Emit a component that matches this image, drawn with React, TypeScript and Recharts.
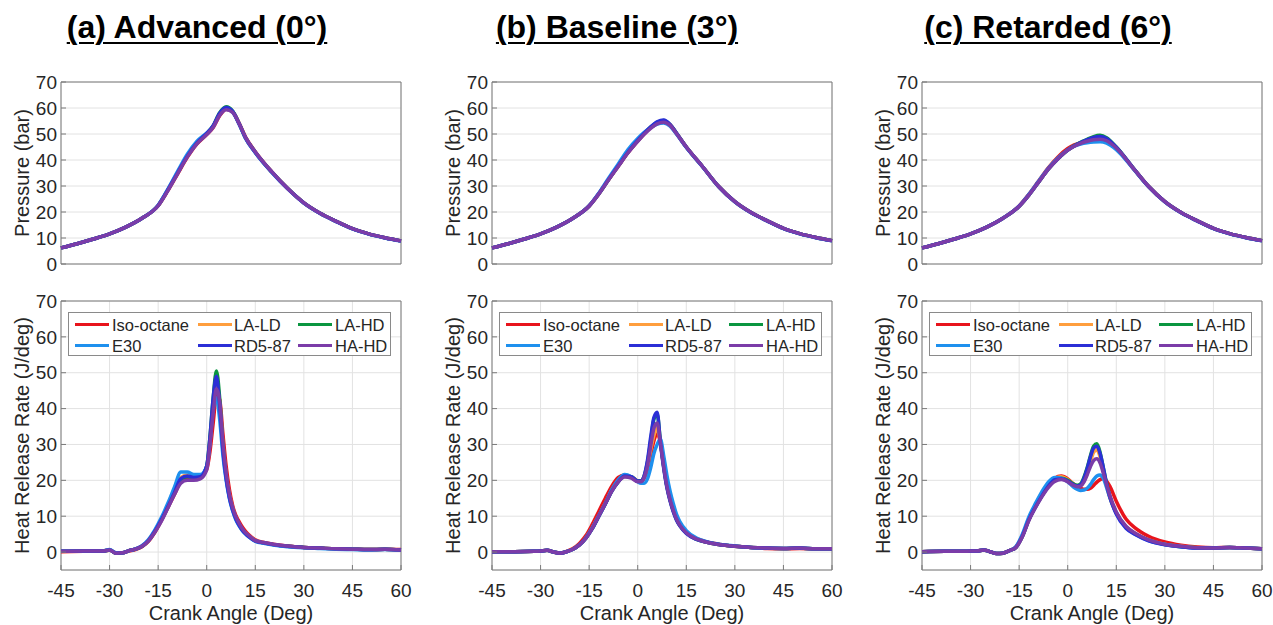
import React from 'react';
import { LineChart, Line, XAxis, YAxis, CartesianGrid, ReferenceArea, Legend } from 'recharts';

const FONT = "'Liberation Sans', Arial, Helvetica, sans-serif";

// crank angle grids
const pressureAngle = [-45, -40, -35, -30, -25, -20, -15, -12, -9, -6, -3, 0, 2, 4, 6, 8, 10, 12, 15, 20, 25, 30, 35, 40, 45, 50, 55, 60];
const hrrAngle = [-45, -38, -32, -30, -28, -26, -24, -22, -20, -18, -16, -14, -12, -10, -8, -6, -4, -2, 0, 1, 2, 3, 4, 5, 6, 7, 8, 9, 10, 11, 12, 13, 15, 18, 21, 25, 30, 35, 40, 45, 50, 55, 60];

const xTicks = [-45, -30, -15, 0, 15, 30, 45, 60];
const yTicks = [0, 10, 20, 30, 40, 50, 60, 70];

const titles = ['(a) Advanced (0°)', '(b) Baseline (3°)', '(c) Retarded (6°)'];

const series = [
  { key: 'iso', name: 'Iso-octane', color: '#e8141c' },
  { key: 'lald', name: 'LA-LD', color: '#ff9e3d' },
  { key: 'lahd', name: 'LA-HD', color: '#0a9640' },
  { key: 'e30', name: 'E30', color: '#1e90ee' },
  { key: 'rd5', name: 'RD5-87', color: '#2b2fd6' },
  { key: 'hahd', name: 'HA-HD', color: '#7b3ca8' },
];

// ---- pressure (bar), advanced
const pAdvIso = [6.2, 7.8, 9.6, 11.6, 14.2, 17.6, 22.4, 28.2, 34.6, 41.0, 46.2, 49.8, 52.5, 57.0, 59.5, 58.6, 54.2, 48.8, 43.2, 35.6, 29.0, 23.5, 19.5, 16.4, 13.6, 11.6, 10.1, 8.9];
const pAdvLALD = [6.2, 7.8, 9.6, 11.6, 14.2, 17.6, 22.5, 28.5, 35.0, 41.5, 46.6, 50.0, 53.0, 57.8, 60.0, 58.6, 54.0, 48.5, 43.0, 35.5, 29.0, 23.5, 19.5, 16.4, 13.6, 11.6, 10.1, 8.9];
const pAdvLAHD = [6.2, 7.8, 9.6, 11.6, 14.2, 17.6, 22.5, 28.5, 35.0, 41.5, 46.6, 50.2, 53.2, 58.2, 60.5, 58.8, 54.0, 48.5, 43.0, 35.5, 29.0, 23.5, 19.5, 16.4, 13.6, 11.6, 10.1, 8.9];
const pAdvE30 = [6.2, 7.8, 9.6, 11.6, 14.2, 17.6, 22.6, 28.8, 35.6, 42.2, 47.2, 50.4, 53.0, 57.5, 59.8, 58.4, 53.8, 48.3, 42.8, 35.4, 28.9, 23.4, 19.4, 16.3, 13.5, 11.5, 10.0, 8.8];
const pAdvRD5 = [6.2, 7.8, 9.6, 11.6, 14.2, 17.6, 22.5, 28.5, 35.0, 41.5, 46.6, 50.2, 53.2, 58.0, 60.2, 58.7, 54.0, 48.5, 43.0, 35.5, 29.0, 23.5, 19.5, 16.4, 13.6, 11.6, 10.1, 8.9];
const pAdvHAHD = [6.2, 7.8, 9.6, 11.6, 14.2, 17.6, 22.4, 28.2, 34.8, 41.2, 46.3, 49.8, 52.6, 57.2, 59.3, 58.3, 54.0, 48.6, 43.1, 35.6, 29.0, 23.5, 19.5, 16.4, 13.6, 11.6, 10.1, 8.9];

// ---- pressure (bar), baseline
const pBaseIso = [6.2, 7.8, 9.6, 11.6, 14.2, 17.6, 22.3, 27.0, 32.4, 37.6, 42.8, 47.3, 50.0, 52.4, 54.1, 54.8, 53.5, 50.2, 45.0, 37.5, 29.8, 24.0, 19.8, 16.6, 13.7, 11.7, 10.2, 9.0];
const pBaseLALD = [6.2, 7.8, 9.6, 11.6, 14.2, 17.6, 22.3, 27.0, 32.5, 37.8, 43.0, 47.5, 50.2, 52.5, 54.2, 55.0, 53.5, 50.2, 45.0, 37.5, 29.8, 24.0, 19.8, 16.6, 13.7, 11.7, 10.2, 9.0];
const pBaseLAHD = [6.2, 7.8, 9.6, 11.6, 14.2, 17.6, 22.3, 27.0, 32.5, 37.8, 43.0, 47.5, 50.2, 52.7, 54.5, 55.2, 53.6, 50.3, 45.0, 37.5, 29.8, 24.0, 19.8, 16.6, 13.7, 11.7, 10.2, 9.0];
const pBaseE30 = [6.2, 7.8, 9.6, 11.6, 14.2, 17.6, 22.4, 27.3, 33.0, 38.5, 44.0, 48.3, 50.6, 52.5, 53.8, 54.2, 53.0, 49.9, 44.8, 37.4, 29.7, 23.9, 19.7, 16.5, 13.6, 11.6, 10.1, 8.9];
const pBaseRD5 = [6.2, 7.8, 9.6, 11.6, 14.2, 17.6, 22.3, 27.0, 32.5, 37.8, 43.0, 47.5, 50.3, 52.8, 54.7, 55.4, 53.7, 50.3, 45.0, 37.5, 29.8, 24.0, 19.8, 16.6, 13.7, 11.7, 10.2, 9.0];
const pBaseHAHD = [6.2, 7.8, 9.6, 11.6, 14.2, 17.6, 22.3, 27.0, 32.4, 37.6, 42.8, 47.2, 49.9, 52.2, 53.9, 54.5, 53.3, 50.1, 45.0, 37.5, 29.8, 24.0, 19.8, 16.6, 13.7, 11.7, 10.2, 9.0];

// ---- pressure (bar), retarded
const pRetIso = [6.2, 7.8, 9.6, 11.6, 14.2, 17.6, 22.3, 26.8, 31.9, 37.0, 41.2, 44.4, 45.8, 46.6, 47.2, 47.8, 48.0, 47.4, 44.6, 37.2, 29.8, 24.0, 19.8, 16.6, 13.7, 11.7, 10.2, 9.0];
const pRetLALD = [6.2, 7.8, 9.6, 11.6, 14.2, 17.6, 22.2, 26.5, 31.5, 36.5, 40.5, 43.8, 45.4, 46.6, 47.5, 48.3, 48.6, 47.8, 44.7, 37.2, 29.8, 24.0, 19.8, 16.6, 13.7, 11.7, 10.2, 9.0];
const pRetLAHD = [6.2, 7.8, 9.6, 11.6, 14.2, 17.6, 22.2, 26.5, 31.5, 36.5, 40.5, 43.8, 45.5, 46.8, 47.9, 49.0, 49.5, 48.6, 45.0, 37.3, 29.8, 24.0, 19.8, 16.6, 13.7, 11.7, 10.2, 9.0];
const pRetE30 = [6.2, 7.8, 9.6, 11.6, 14.2, 17.6, 22.3, 26.8, 31.8, 36.8, 40.8, 43.9, 45.3, 46.1, 46.6, 46.9, 47.0, 46.5, 44.0, 37.0, 29.7, 23.9, 19.7, 16.5, 13.6, 11.6, 10.1, 8.9];
const pRetRD5 = [6.2, 7.8, 9.6, 11.6, 14.2, 17.6, 22.2, 26.5, 31.5, 36.5, 40.5, 43.8, 45.4, 46.7, 47.8, 48.7, 49.0, 48.3, 44.9, 37.3, 29.8, 24.0, 19.8, 16.6, 13.7, 11.7, 10.2, 9.0];
const pRetHAHD = [6.2, 7.8, 9.6, 11.6, 14.2, 17.6, 22.2, 26.5, 31.5, 36.5, 40.5, 43.8, 45.3, 46.4, 47.2, 47.8, 48.0, 47.4, 44.6, 37.2, 29.8, 24.0, 19.8, 16.6, 13.7, 11.7, 10.2, 9.0];

// ---- heat release rate (J/deg), advanced
const hAdvIso = [0.1, 0.2, 0.3, 0.5, -0.2, -0.2, 0.3, 0.7, 1.5, 3.0, 5.5, 8.8, 12.4, 16.0, 19.6, 20.6, 20.6, 21.0, 23.0, 28.0, 36.0, 43.5, 42.5, 33.0, 24.0, 17.5, 13.0, 10.2, 8.5, 7.0, 5.8, 4.8, 3.4, 2.6, 2.1, 1.7, 1.3, 1.1, 0.9, 0.8, 0.7, 0.8, 0.7];
const hAdvLALD = [0.2, 0.3, 0.3, 0.6, -0.3, -0.2, 0.4, 0.8, 1.6, 3.2, 5.8, 9.0, 12.8, 16.8, 20.8, 21.5, 21.0, 21.2, 23.5, 31.0, 41.0, 47.5, 42.0, 30.0, 21.5, 16.0, 12.2, 9.6, 7.8, 6.3, 5.3, 4.5, 3.2, 2.5, 2.0, 1.6, 1.3, 1.1, 0.9, 0.8, 0.7, 0.8, 0.6];
const hAdvLAHD = [0.2, 0.3, 0.3, 0.6, -0.3, -0.2, 0.4, 0.8, 1.6, 3.2, 5.8, 9.0, 12.6, 16.5, 20.2, 21.0, 20.8, 21.0, 24.0, 32.0, 43.0, 50.5, 43.0, 29.5, 21.0, 15.5, 12.0, 9.4, 7.6, 6.2, 5.2, 4.4, 3.1, 2.5, 2.0, 1.6, 1.3, 1.1, 0.9, 0.8, 0.7, 0.8, 0.6];
const hAdvE30 = [0.2, 0.3, 0.3, 0.7, -0.2, -0.2, 0.4, 0.9, 1.8, 3.5, 6.2, 9.6, 13.6, 18.0, 22.3, 22.3, 21.6, 21.6, 23.8, 30.5, 40.0, 43.0, 37.0, 27.0, 20.0, 15.0, 11.5, 9.0, 7.3, 6.0, 5.0, 4.2, 3.0, 2.4, 1.9, 1.5, 1.2, 1.0, 0.8, 0.7, 0.6, 0.7, 0.5];
const hAdvRD5 = [0.2, 0.3, 0.3, 0.6, -0.3, -0.2, 0.4, 0.8, 1.6, 3.2, 5.8, 9.0, 12.6, 16.5, 20.5, 21.2, 20.8, 21.0, 24.0, 32.0, 43.0, 49.0, 41.0, 28.5, 20.5, 15.2, 11.8, 9.3, 7.5, 6.1, 5.1, 4.3, 3.1, 2.5, 2.0, 1.6, 1.3, 1.1, 0.9, 0.8, 0.7, 0.8, 0.6];
const hAdvHAHD = [0.2, 0.3, 0.3, 0.6, -0.3, -0.2, 0.4, 0.8, 1.6, 3.1, 5.6, 8.6, 12.3, 16.0, 19.2, 20.0, 20.0, 20.4, 23.0, 30.0, 39.0, 45.5, 42.0, 30.5, 22.0, 16.2, 12.4, 9.8, 8.0, 6.5, 5.4, 4.6, 3.2, 2.6, 2.1, 1.7, 1.3, 1.1, 0.9, 0.8, 0.7, 0.8, 0.6];

// ---- heat release rate (J/deg), baseline
const hBaseIso = [0.1, 0.1, 0.2, 0.3, 0.5, 0.0, -0.3, 0.2, 1.0, 2.4, 4.6, 7.8, 11.4, 15.0, 18.4, 20.8, 21.5, 20.8, 19.8, 19.8, 20.6, 22.8, 27.0, 31.0, 33.0, 30.5, 24.5, 19.0, 15.0, 12.0, 9.5, 7.8, 5.6, 3.8, 2.9, 2.2, 1.6, 1.3, 1.0, 0.9, 1.0, 0.8, 0.8];
const hBaseLALD = [0.1, 0.1, 0.2, 0.3, 0.5, 0.0, -0.3, 0.1, 0.8, 2.0, 4.0, 6.8, 10.2, 13.6, 17.2, 19.8, 21.2, 21.0, 19.9, 19.8, 21.0, 24.0, 28.5, 32.5, 34.5, 30.5, 24.0, 18.5, 14.6, 11.6, 9.2, 7.5, 5.4, 3.7, 2.8, 2.1, 1.6, 1.3, 1.1, 1.0, 1.1, 0.9, 0.9];
const hBaseLAHD = [0.1, 0.1, 0.2, 0.3, 0.5, 0.0, -0.3, 0.1, 0.8, 2.0, 3.9, 6.6, 10.0, 13.4, 17.0, 19.6, 21.2, 21.0, 19.8, 19.8, 21.2, 25.0, 31.0, 37.0, 38.5, 31.0, 24.0, 18.3, 14.4, 11.4, 9.0, 7.4, 5.3, 3.6, 2.8, 2.1, 1.6, 1.3, 1.1, 1.0, 1.1, 0.9, 0.9];
const hBaseE30 = [0.1, 0.1, 0.2, 0.3, 0.5, 0.0, -0.3, 0.1, 0.8, 2.0, 4.0, 6.8, 10.2, 13.6, 17.4, 20.2, 21.6, 21.0, 19.6, 19.2, 19.2, 20.4, 23.5, 27.5, 30.0, 31.5, 27.0, 21.5, 17.0, 13.5, 10.5, 8.5, 6.0, 4.0, 3.0, 2.2, 1.7, 1.3, 1.1, 1.0, 1.1, 0.9, 0.9];
const hBaseRD5 = [0.1, 0.1, 0.2, 0.3, 0.5, 0.0, -0.3, 0.1, 0.8, 2.0, 3.9, 6.6, 10.0, 13.4, 17.0, 19.6, 21.2, 21.0, 19.8, 19.8, 21.3, 25.5, 32.0, 37.5, 39.0, 30.5, 23.5, 18.0, 14.2, 11.2, 8.9, 7.3, 5.2, 3.6, 2.8, 2.1, 1.6, 1.3, 1.1, 1.0, 1.1, 0.9, 0.9];
const hBaseHAHD = [0.1, 0.1, 0.2, 0.3, 0.5, 0.0, -0.3, 0.1, 0.8, 2.0, 3.9, 6.7, 10.1, 13.5, 17.0, 19.6, 20.9, 20.6, 19.6, 19.6, 20.8, 24.0, 29.5, 34.5, 36.0, 30.5, 24.0, 18.5, 14.6, 11.6, 9.2, 7.5, 5.4, 3.7, 2.8, 2.1, 1.6, 1.3, 1.1, 1.0, 1.1, 0.9, 0.9];

// ---- heat release rate (J/deg), retarded
const hRetIso = [0.1, 0.2, 0.2, 0.3, 0.3, 0.6, 0.1, -0.4, -0.3, 0.4, 1.4, 4.6, 9.2, 12.8, 16.0, 18.8, 20.6, 21.2, 20.4, 19.6, 18.8, 18.2, 17.8, 17.5, 17.5, 17.8, 18.6, 19.5, 20.2, 20.5, 19.8, 18.4, 14.2, 9.2, 6.6, 4.4, 2.8, 1.9, 1.4, 1.2, 1.3, 1.1, 0.9];
const hRetLALD = [0.1, 0.2, 0.2, 0.3, 0.3, 0.6, 0.1, -0.4, -0.3, 0.4, 1.3, 4.4, 9.0, 12.6, 15.8, 18.6, 20.5, 21.0, 20.2, 19.5, 18.9, 18.5, 18.6, 19.8, 22.0, 25.0, 27.8, 28.5, 26.5, 22.5, 18.5, 15.2, 10.8, 7.0, 5.1, 3.4, 2.2, 1.6, 1.2, 1.1, 1.3, 1.1, 0.9];
const hRetLAHD = [0.1, 0.2, 0.2, 0.3, 0.3, 0.6, 0.1, -0.4, -0.3, 0.4, 1.3, 4.4, 9.0, 12.5, 15.6, 18.3, 20.0, 20.6, 20.0, 19.4, 18.9, 18.6, 19.0, 20.8, 23.5, 26.8, 29.5, 30.2, 27.8, 23.5, 19.2, 15.6, 11.0, 7.0, 5.0, 3.3, 2.1, 1.5, 1.2, 1.1, 1.3, 1.1, 0.9];
const hRetE30 = [0.1, 0.2, 0.2, 0.3, 0.3, 0.6, 0.1, -0.4, -0.3, 0.4, 1.5, 5.0, 9.8, 13.5, 16.8, 19.5, 20.8, 20.6, 19.6, 18.8, 18.0, 17.5, 17.2, 17.3, 17.8, 18.8, 20.2, 21.2, 21.5, 20.5, 18.0, 15.2, 10.8, 6.8, 4.9, 3.2, 2.1, 1.5, 1.1, 1.1, 1.3, 1.1, 0.9];
const hRetRD5 = [0.1, 0.2, 0.2, 0.3, 0.3, 0.6, 0.1, -0.4, -0.3, 0.4, 1.3, 4.4, 9.0, 12.5, 15.6, 18.3, 20.2, 20.4, 19.8, 19.2, 18.7, 18.4, 18.8, 20.5, 23.2, 26.5, 29.0, 29.5, 27.5, 23.5, 19.0, 15.4, 10.6, 6.6, 4.8, 3.1, 2.0, 1.5, 1.1, 1.1, 1.3, 1.1, 0.9];
const hRetHAHD = [0.1, 0.2, 0.2, 0.3, 0.3, 0.6, 0.1, -0.4, -0.3, 0.4, 1.3, 4.3, 8.8, 12.3, 15.4, 18.0, 19.7, 20.2, 19.6, 19.0, 18.5, 18.2, 18.4, 19.5, 21.5, 23.8, 25.5, 26.0, 24.8, 22.0, 18.8, 15.8, 11.2, 7.2, 5.2, 3.4, 2.2, 1.6, 1.2, 1.1, 1.3, 1.1, 0.9];

const buildRows = (angles: number[], cols: number[][]) =>
  angles.map((angle, i) => {
    const row: Record<string, number> = { angle };
    series.forEach((s, j) => { row[s.key] = cols[j][i]; });
    return row;
  });

const pressureData = [
  buildRows(pressureAngle, [pAdvIso, pAdvLALD, pAdvLAHD, pAdvE30, pAdvRD5, pAdvHAHD]),
  buildRows(pressureAngle, [pBaseIso, pBaseLALD, pBaseLAHD, pBaseE30, pBaseRD5, pBaseHAHD]),
  buildRows(pressureAngle, [pRetIso, pRetLALD, pRetLAHD, pRetE30, pRetRD5, pRetHAHD]),
];
const hrrData = [
  buildRows(hrrAngle, [hAdvIso, hAdvLALD, hAdvLAHD, hAdvE30, hAdvRD5, hAdvHAHD]),
  buildRows(hrrAngle, [hBaseIso, hBaseLALD, hBaseLAHD, hBaseE30, hBaseRD5, hBaseHAHD]),
  buildRows(hrrAngle, [hRetIso, hRetLALD, hRetLAHD, hRetE30, hRetRD5, hRetHAHD]),
];

const TEXT = '#262626';
const GRID = '#e2e2e2';
const BOX = '#7a7a7a';
const TICK_FONT = 19;

const CHART_W = 415;
const MARGIN_R = 14;

const lineX = [6, 129, 229];
const textX = [43, 165, 266];
const rowY = [12, 33];

const LegendBox = () => (
  <div style={{ position: 'relative', width: 323, height: 44, boxSizing: 'border-box', border: '1px solid #8a8a8a', background: '#fff', fontFamily: FONT }}>
    {series.map((s, i) => {
      const col = i % 3;
      const row = Math.floor(i / 3);
      return (
        <React.Fragment key={s.key}>
          <div style={{ position: 'absolute', left: lineX[col], top: rowY[row] - 2, width: 34, height: 3, background: s.color }} />
          <div style={{ position: 'absolute', left: textX[col], top: rowY[row] - 10, fontSize: 16.5, lineHeight: '20px', color: TEXT, whiteSpace: 'nowrap' }}>{s.name}</div>
        </React.Fragment>
      );
    })}
  </div>
);

const colLeft = [0, 431, 861];

const renderLines = () =>
  series.map((s) => (
    <Line key={s.key} type="monotone" dataKey={s.key} name={s.name} stroke={s.color} strokeWidth={3.5} dot={false} activeDot={false} isAnimationActive={false} />
  ));

// inward tick marks on top and right, like a boxed axis
const boxAxes = (yDomain: number[]) => [
  <XAxis key="xt" xAxisId="top" orientation="top" type="number" domain={[-45, 60]} ticks={xTicks} tick={false} axisLine={false} tickSize={-5} tickLine={{ stroke: BOX }} height={0} />,
  <YAxis key="yr" yAxisId="right" orientation="right" type="number" domain={yDomain} ticks={yTicks} tick={false} axisLine={false} tickSize={-5} tickLine={{ stroke: BOX }} width={0} interval={0} />,
];

const PressurePanel = ({ idx }: { idx: number }) => (
  <div style={{ position: 'absolute', left: colLeft[idx], top: 60 }}>
    <LineChart width={CHART_W} height={220} data={pressureData[idx]} margin={{ top: 22, right: MARGIN_R, left: 0, bottom: 0 }}>
      <CartesianGrid stroke={GRID} />
      <XAxis dataKey="angle" type="number" domain={[-45, 60]} ticks={xTicks} tick={false} axisLine={false} tickSize={-5} tickLine={{ stroke: BOX }} height={16} />
      <YAxis type="number" domain={[0, 70]} ticks={yTicks} interval={0} width={61} axisLine={false} tickSize={-5} tickLine={{ stroke: BOX }} tickMargin={9}
        tick={{ fontSize: TICK_FONT, fill: TEXT }}
        label={{ value: 'Pressure (bar)', angle: -90, position: 'insideLeft', offset: 22, fontSize: 20, fill: TEXT, style: { textAnchor: 'middle' } }} />
      {boxAxes([0, 70])}
      <ReferenceArea x1={-45} x2={60} y1={0} y2={70} fill="none" stroke={BOX} strokeWidth={1} />
      {renderLines()}
    </LineChart>
  </div>
);

const HrrPanel = ({ idx }: { idx: number }) => (
  <div style={{ position: 'absolute', left: colLeft[idx], top: 280 }}>
    <LineChart width={CHART_W} height={345} data={hrrData[idx]} margin={{ top: 21, right: MARGIN_R, left: 0, bottom: 0 }}>
      <CartesianGrid stroke={GRID} />
      <XAxis dataKey="angle" type="number" domain={[-45, 60]} ticks={xTicks} interval={0} axisLine={false} tickSize={-5} tickLine={{ stroke: BOX }} tickMargin={19} height={55}
        tick={{ fontSize: TICK_FONT, fill: TEXT }}
        label={{ value: 'Crank Angle (Deg)', position: 'insideBottom', offset: 5, fontSize: 20, fill: TEXT }} />
      <YAxis type="number" domain={[-5, 70]} ticks={yTicks} interval={0} width={61} axisLine={false} tickSize={-5} tickLine={{ stroke: BOX }} tickMargin={9}
        tick={{ fontSize: TICK_FONT, fill: TEXT }}
        label={{ value: 'Heat Release Rate (J/deg)', angle: -90, position: 'insideLeft', offset: 22, fontSize: 20, fill: TEXT, style: { textAnchor: 'middle' } }} />
      {boxAxes([-5, 70])}
      <ReferenceArea x1={-45} x2={60} y1={-5} y2={70} fill="none" stroke={BOX} strokeWidth={1} />
      {renderLines()}
      <Legend layout="vertical" align="center" verticalAlign="middle" content={() => <LegendBox />}
        wrapperStyle={{ left: 68, top: 32, width: 323, height: 44 }} />
    </LineChart>
  </div>
);

const titleCenter = [197, 617, 1048];

export default function App() {
  return (
    <div style={{ position: 'absolute', left: 0, top: 0, width: 1273, height: 625, overflow: 'hidden', background: '#fff', fontFamily: FONT }}>
      {titles.map((t, i) => (
        <div key={t} style={{ position: 'absolute', left: titleCenter[i] - 200, top: 12, width: 400, textAlign: 'center', fontSize: 32, lineHeight: '31px', fontWeight: 'bold', color: '#000', textDecoration: 'underline', textDecorationThickness: 2, textUnderlineOffset: 4 }}>
          {t}
        </div>
      ))}
      {[0, 1, 2].map((i) => (
        <React.Fragment key={i}>
          <PressurePanel idx={i} />
          <HrrPanel idx={i} />
        </React.Fragment>
      ))}
    </div>
  );
}
